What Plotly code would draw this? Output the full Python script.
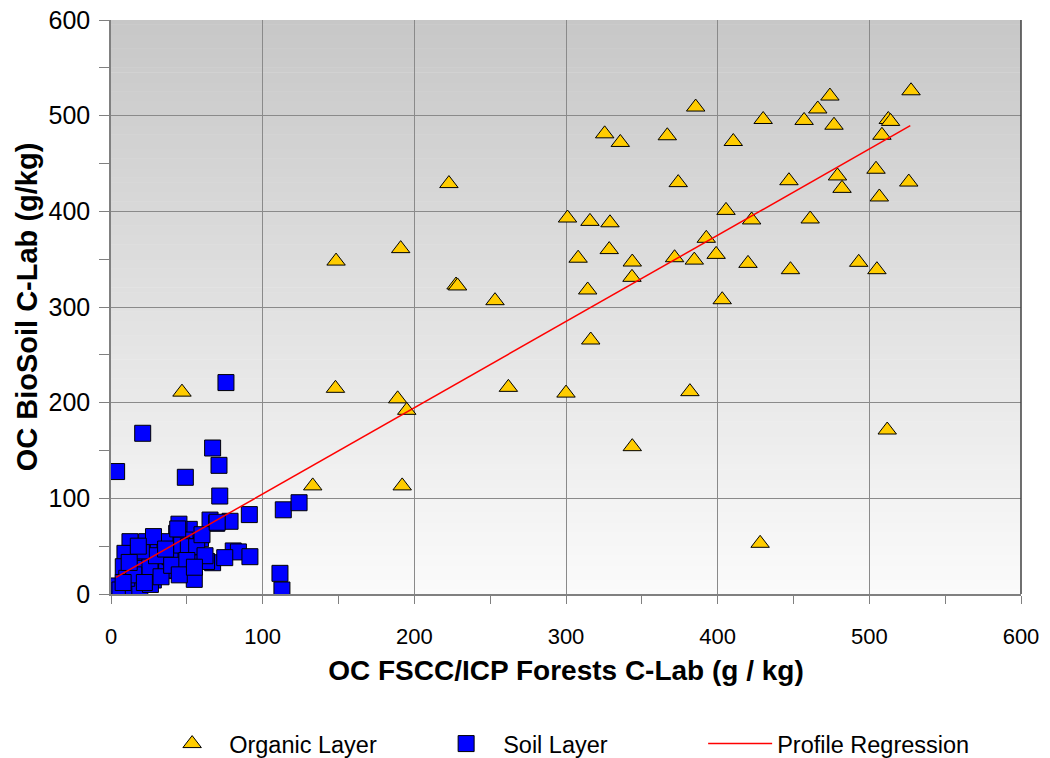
import plotly.graph_objects as go

# ---------------- data ----------------
organic_x = [46.8, 148.4, 148, 191, 189, 195, 192, 133, 222.8, 227.5, 228.5, 253.2, 262, 301, 300,
             308, 314.3, 315.8, 316.3, 329, 328.5, 325.5, 335.8, 343.7, 343.5, 343.7, 366.8, 385.5,
             374, 371.6, 384.6, 392.5, 399, 381.7, 405.5, 403, 410.3, 430, 422.4, 420, 428, 447, 448,
             457, 466, 474, 476.7, 479, 482, 461, 493, 504.4, 505, 506.6, 508.3, 511.8, 512.5, 514,
             526, 527.5]
organic_y = [211, 348, 215, 361, 204, 192, 113, 113, 429, 323, 322, 306.6, 216, 393, 210,
             351, 317.8, 389.5, 265.5, 388, 360, 481, 472, 347, 331, 154, 479, 509,
             430, 351.5, 349, 371.8, 355, 211.5, 401, 307.6, 473, 496, 391, 345.6, 53, 432, 339,
             495, 507, 520.5, 490, 437, 424, 392, 346.7, 444, 339, 415, 479.5, 171.4, 496, 494,
             430.6, 526]

soil_x = [75.8, 20.9, 3.7, 67, 71.2, 49, 71.7, 91.2, 113.6, 124, 111.4, 112.7, 65.3, 78.5, 69.7,
          80.6, 84, 91.6, 67, 63, 54.9, 59, 51.6, 44.8, 53.4, 43.7, 40.7, 31.9, 22.4, 12.5, 23.5,
          9.2, 18.7, 17, 8.1, 3.3, 5.9, 14.7, 19, 10.4, 27.9, 36.7, 43.3, 31.2, 35.6, 48.8, 38.9,
          25.7, 46.6, 51, 56.5, 44, 60, 30, 15, 26, 33, 20, 8, 40, 62, 70, 28, 50, 12, 22, 45, 36,
          18, 55, 75]
soil_y = [221, 168, 128, 152.6, 134.5, 122, 102.4, 83, 88, 95.4, 21.6, 4.2, 77.3, 76, 73.9,
          45, 44, 39, 32.7, 34, 15.3, 57.8, 67.6, 73, 41, 24.4, 38, 33.4, 19.9, 54.7, 54.7,
          42.5, 35.5, 26.8, 28.5, 8.4, 4.2, 4.2, 7.6, 16.4, 14.6, 25, 63.4, 47.7, 54.7, 56.4, 39,
          28.5, 51.2, 49.4, 49.4, 68, 62, 40, 20, 10, 18, 45, 12, 30, 40, 75, 60, 35, 33, 12, 20, 47,
          50, 28, 38]

reg_slope = 0.9015
reg_intercept = 14.4
reg_x = [3.3, 527]
reg_y = [reg_slope * v + reg_intercept for v in reg_x]

x_ticks = [0, 100, 200, 300, 400, 500, 600]
y_ticks = [0, 100, 200, 300, 400, 500, 600]

FONT = "Liberation Sans, Arial, sans-serif"

fig = go.Figure()

fig.add_trace(go.Scatter(
    x=organic_x, y=organic_y, mode="markers", name="Organic Layer",
    marker=dict(symbol="triangle-up", size=16, color="#FFCC00",
                line=dict(color="#000000", width=1)),
))
fig.add_trace(go.Scatter(
    x=soil_x, y=soil_y, mode="markers", name="Soil Layer",
    marker=dict(symbol="square", size=16, color="#0000FF",
                line=dict(color="#000000", width=1)),
))
fig.add_trace(go.Scatter(
    x=reg_x, y=reg_y, mode="lines", name="Profile Regression",
    line=dict(color="#FF0000", width=1.5),
))

# vertical gradient background (below gridlines)
n_strips = 120
shapes = []
for i in range(n_strips):
    y0 = 600 * i / n_strips
    y1 = 600 * (i + 1) / n_strips
    t = (i + 0.5) / n_strips
    g = round(251 - (251 - 199) * t)
    shapes.append(dict(type="rect", xref="paper", yref="y", x0=0, x1=1, y0=y0, y1=y1 + 0.5,
                       fillcolor=f"rgb({g},{g},{g})", line=dict(width=0), layer="below"))
shapes.append(dict(type="line", xref="paper", yref="paper", x0=1, x1=1, y0=0, y1=1,
                   line=dict(color="#404040", width=1.5), layer="above"))

fig.update_layout(
    width=1042, height=750,
    margin=dict(l=103, r=29, t=12, b=164, autoexpand=False),
    paper_bgcolor="white", plot_bgcolor="white",
    font=dict(family=FONT, color="black"),
    shapes=shapes,
    showlegend=True,
    legend=dict(orientation="h", x=0.0485, xanchor="left", y=-0.261, yanchor="middle",
                font=dict(size=23.5, family=FONT), itemwidth=64,
                entrywidth=195, entrywidthmode="pixels",
                bgcolor="rgba(0,0,0,0)"),
    xaxis=dict(range=[0, 600], tickvals=x_ticks, ticktext=[str(v) for v in x_ticks],
               automargin=False, ticklabeloverflow="allow",
               showgrid=True, gridcolor="#8a8a8a", gridwidth=1,
               showline=True, linecolor="#808080", linewidth=1.5, mirror=False,
               ticks="outside", ticklen=8, tickcolor="#808080", ticklabelstandoff=14,
               minor=dict(dtick=50, tick0=0, ticks="outside", ticklen=8, tickcolor="#808080", showgrid=False),
               tickfont=dict(size=22, family=FONT), zeroline=False,
               title=dict(text="<b>OC FSCC/ICP Forests C-Lab (g / kg)</b>", font=dict(size=28, family=FONT), standoff=12)),
    yaxis=dict(range=[0, 600], tickvals=y_ticks, ticktext=[str(v) for v in y_ticks],
               automargin=False, ticklabeloverflow="allow",
               showgrid=True, gridcolor="#8a8a8a", gridwidth=1,
               showline=True, linecolor="#808080", linewidth=1.5, mirror=False,
               ticks="outside", ticklen=10, tickcolor="#808080", ticklabelstandoff=4,
               minor=dict(dtick=50, tick0=0, ticks="outside", ticklen=10, tickcolor="#808080", showgrid=False),
               tickfont=dict(size=25, family=FONT), zeroline=False,
               title=dict(text="<b>OC BioSoil C-Lab (g/kg)</b>", font=dict(size=29, family=FONT), standoff=2)),
)

fig.write_html("out.html")
